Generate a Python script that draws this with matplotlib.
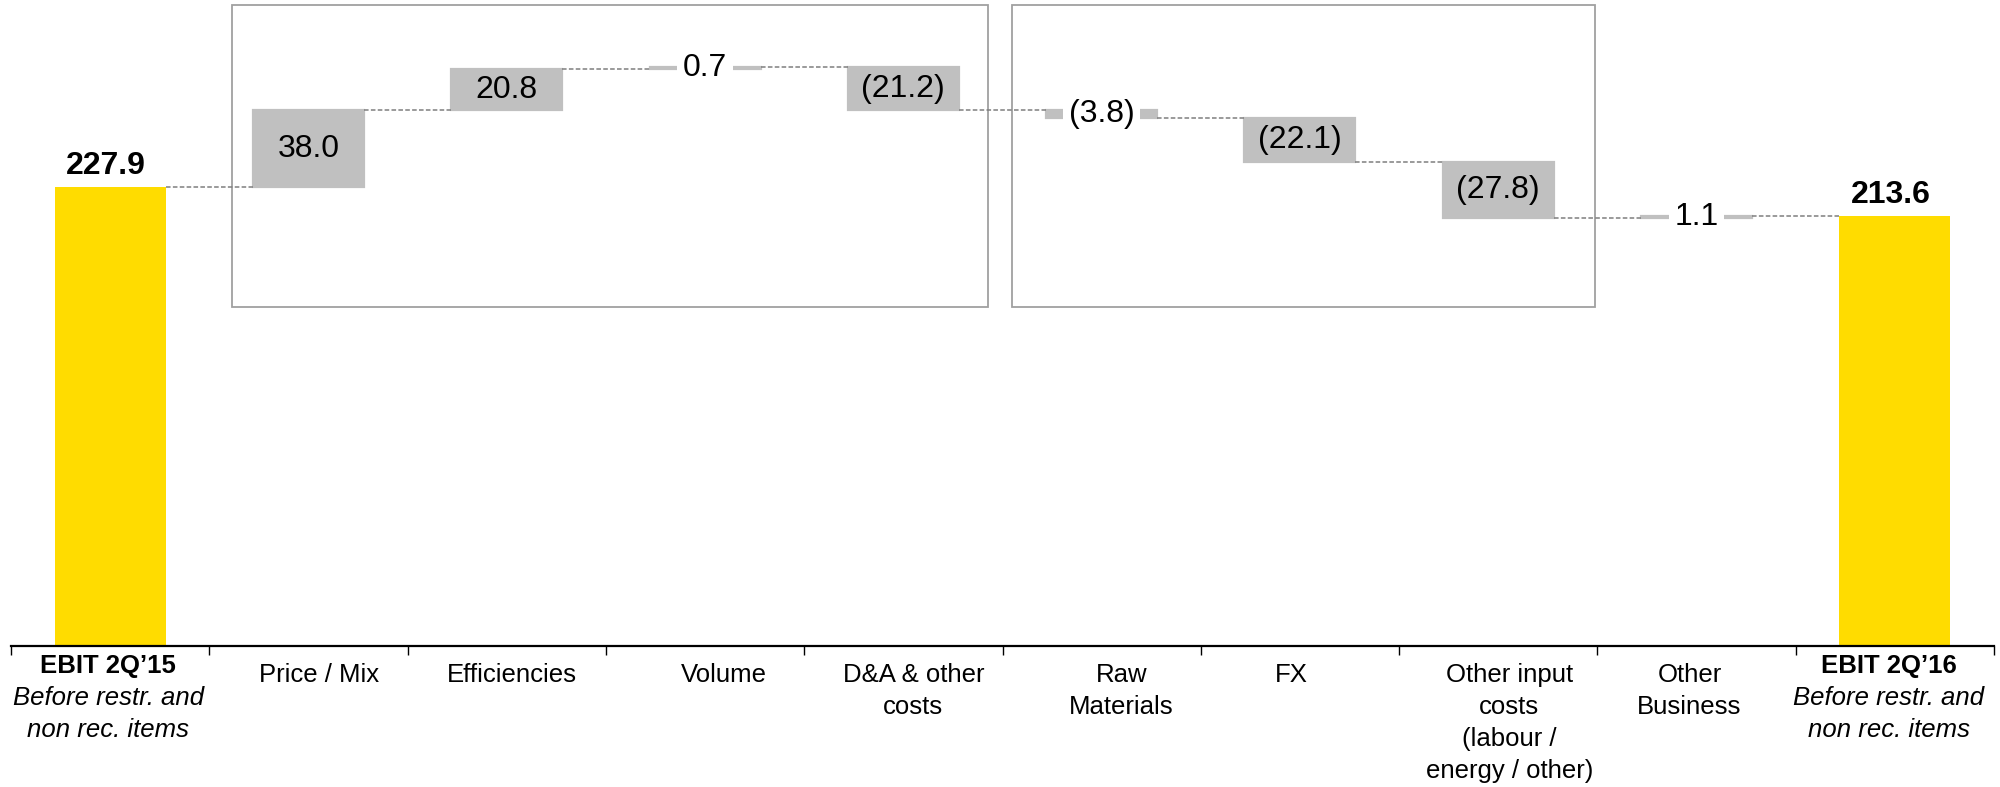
import matplotlib
matplotlib.use("Agg")
import matplotlib.pyplot as plt
from matplotlib.patches import Rectangle

plt.rcParams['font.family'] = ['Liberation Sans', 'DejaVu Sans']

# data
categories = ["Price / Mix", "Efficiencies", "Volume", "D&A & other\ncosts",
              "Raw\nMaterials", "FX", "Other input\ncosts\n(labour /\nenergy / other)",
              "Other\nBusiness"]
start_label = "EBIT 2Q\u201915"
end_label = "EBIT 2Q\u201916"
total_note = ["Before restr. and", "non rec. items"]
start_value = 227.9
end_value = 213.6
deltas = [38.0, 20.8, 0.7, -21.2, -3.8, -22.1, -27.8, 1.1]

# layout (pixels of the 2000x787 output)
W, H, DPI = 2000, 787, 100
AX_L, AX_R, BASE = 11, 1994, 646
PX_PER_UNIT = 2.014
CAT_PX = (AX_R - AX_L) / 10
BAR_W = 0.56
YELLOW = "#FFDC00"
GREY = "#C0C0C0"
label_shift_px = [-2, 11, 5, 19, 10, 20, -9, 11, -7, -6]

fig = plt.figure(figsize=(W / DPI, H / DPI), dpi=DPI)
ax = fig.add_axes([AX_L / W, (H - BASE) / H, (AX_R - AX_L) / W, BASE / H])
ax.set_xlim(-0.5, 9.5)
ax.set_ylim(0, BASE / PX_PER_UNIT)

# grouping boxes behind the bars
for x0, x1 in [(0.614, 4.427), (4.548, 7.488)]:
    ax.add_patch(Rectangle((x0, 168.3), x1 - x0, 150.0, fill=False,
                           edgecolor="#a0a0a0", lw=1.3, zorder=1, clip_on=False))

# running totals
levels = [start_value]
bottoms = []
for d in deltas:
    bottoms.append(min(levels[-1], levels[-1] + d))
    levels.append(levels[-1] + d)

n = len(deltas)
ax.bar(0, start_value, width=BAR_W, color=YELLOW, zorder=2)
ax.bar(n + 1, end_value, width=BAR_W, color=YELLOW, zorder=2)
ax.bar(range(1, n + 1), [abs(d) for d in deltas], bottom=bottoms,
       width=BAR_W, color=GREY, edgecolor=GREY, lw=1.6, zorder=2)

# dashed connectors
for i, lvl in enumerate(levels):
    ax.plot([i + BAR_W / 2, i + 1 - BAR_W / 2], [lvl, lvl], color="#7f7f7f",
            lw=1.1, ls=(0, (3, 1.5)), zorder=2)

# value labels
for i, d in enumerate(deltas):
    txt = f"{d:.1f}" if d >= 0 else f"({abs(d):.1f})"
    kw = {}
    if abs(d) < 5:
        kw["bbox"] = dict(facecolor="white", edgecolor="none", pad=4)
    ax.text(i + 1, bottoms[i] + abs(d) / 2, txt, ha="center", va="center",
            fontsize=23, zorder=4, **kw)

for x, v in [(0, start_value), (n + 1, end_value)]:
    ax.annotate(f"{v:.1f}", (x, v), xytext=(-3, 9.5), textcoords="offset points",
                ha="center", va="baseline", fontsize=23, fontweight="bold")

# axis
for s in ["top", "right", "left"]:
    ax.spines[s].set_visible(False)
ax.spines["bottom"].set_linewidth(1.6)
ax.set_yticks([])
ax.set_xticks([i - 0.5 for i in range(11)])
ax.set_xticklabels([])
ax.tick_params(axis="x", direction="out", length=6.5, width=1.0)

# category labels
tr = ax.get_xaxis_transform()


def y_of(px):
    return (BASE - px) / BASE


for i, lab in enumerate(categories):
    x = i + 1 + label_shift_px[i + 1] / CAT_PX
    for k, line in enumerate(lab.split("\n")):
        ax.text(x, y_of(682 + 32 * k), line, transform=tr, ha="center",
                va="baseline", fontsize=18.5, clip_on=False)

for i, lab in [(0, start_label), (n + 1, end_label)]:
    x = i + label_shift_px[i] / CAT_PX
    ax.text(x, y_of(673), lab, transform=tr, ha="center", va="baseline",
            fontsize=18.5, fontweight="bold", clip_on=False)
    for k, line in enumerate(total_note):
        ax.text(x, y_of(705 + 32 * k), line, transform=tr, ha="center",
                va="baseline", fontsize=18.5, style="italic", clip_on=False)

fig.savefig("out.png", dpi=DPI)
